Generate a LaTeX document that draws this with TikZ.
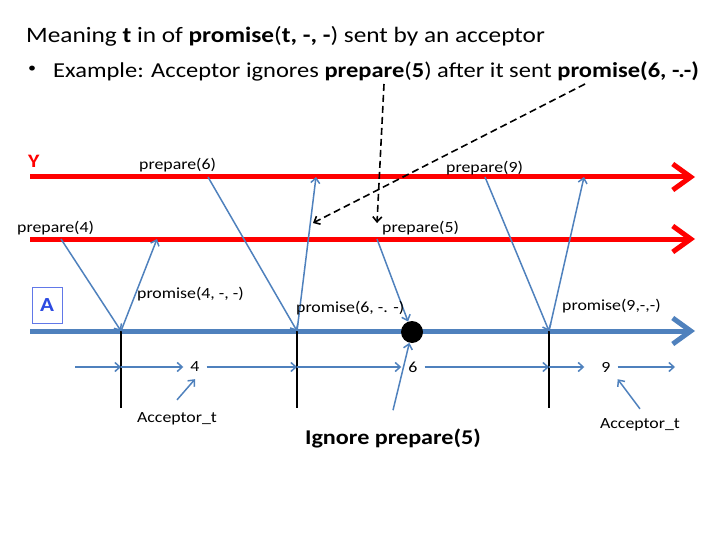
\documentclass[tikz,border=0pt]{standalone}
\usepackage{fontspec}
\setmainfont{Carlito}[FakeStretch=1.15]
\usetikzlibrary{arrows.meta,positioning}
\definecolor{slideblue}{RGB}{79,129,189}
\definecolor{letterblue}{RGB}{45,75,225}

\begin{document}
\begin{tikzpicture}[x=1pt, y=-1pt, >={Straight Barb[length=5pt,width=9pt]},
  process/.style={line width=5pt, -{Straight Barb[length=18pt,width=26pt]}},
  msg/.style={draw=slideblue, line width=1.5pt, ->},
  note/.style={draw=black, line width=1.6pt, dash pattern=on 7pt off 4pt, ->},
  lbl/.style={inner sep=0pt, anchor=base west, font=\fontsize{15.5}{18}\selectfont},
  num/.style={inner sep=7pt, font=\fontsize{15.5}{18}\selectfont},
  tick/.style={draw=black, line width=1.6pt}]
  \useasboundingbox (0,0) rectangle (720,540);

  % heading
  \node[lbl, font=\fontsize{22}{26}\selectfont] (head) at (26,43)
    {Meaning \textbf{t} in of \textbf{promise}(\textbf{t, -, -}) sent by an acceptor};
  \node[lbl, font=\fontsize{14}{16}\selectfont] (bullet) at (28,73) {\textbullet};
  \node[lbl, font=\fontsize{21.3}{26}\selectfont] (example) at (53,78)
    {Example: Acceptor ignores \textbf{prepare}(\textbf{5}) after it sent \textbf{promise(6, -.-)}};

  % process lines
  \node[lbl, text=red, font=\fontsize{19}{22}\selectfont\bfseries] (Y) at (28,168) {Y};
  \node[draw=letterblue!75, line width=1pt, minimum width=30, minimum height=36, inner sep=0pt,
    text=letterblue, font=\fontsize{20}{24}\selectfont\bfseries] (A) at (47,305) {A};
  \coordinate (ys) at (30,177);  \coordinate (ye) at (695,177);
  \coordinate (zs) at (30,239);  \coordinate (ze) at (695,239);
  \coordinate (as) at (30,331);  \coordinate (ae) at (695,331);
  \draw[process, red] (ys) -- (ye);
  \draw[process, red] (zs) -- (ze);
  \draw[process, slideblue] (as) -- (ae);

  % promise points on A
  \coordinate (acc4) at (121,331);  \coordinate (acc4b) at (121,408);
  \coordinate (acc6) at (297,331);  \coordinate (acc6b) at (297,408);
  \coordinate (acc9) at (549,331);  \coordinate (acc9b) at (549,408);
  \draw[tick] (acc4) -- (acc4b);
  \draw[tick] (acc6) -- (acc6b);
  \draw[tick] (acc9) -- (acc9b);
  \node[circle, fill=black, minimum size=22, inner sep=0pt] (dot) at (412,332) {};

  % messages
  \coordinate (p4) at (61,239);   \coordinate (r4) at (157,239);
  \coordinate (p6) at (208,177);  \coordinate (r6) at (316,177);
  \coordinate (p5) at (377,239);
  \coordinate (p9) at (485,177);  \coordinate (r9) at (584,177);
  \draw[msg] (p4) -- (acc4);
  \draw[msg] (acc4) -- (r4);
  \draw[msg] (p6) -- (acc6);
  \draw[msg] (acc6) -- (r6);
  \draw[msg] (p5) -- (dot);
  \draw[msg] (p9) -- (acc9);
  \draw[msg] (acc9) -- (r9);
  \node[lbl] (prep4) at (17,233) {prepare(4)};
  \node[lbl] (prom4) at (137,298) {promise(4, -, -)};
  \node[lbl] (prep6) at (139,170) {prepare(6)};
  \node[lbl] (prom6) at (296,312) {promise(6, -. -)};
  \node[lbl] (prep5) at (382,233) {prepare(5)};
  \node[lbl] (prep9) at (446,173) {prepare(9)};
  \node[lbl] (prom9) at (562,310) {promise(9,-,-)};

  % pointers from the heading
  \coordinate (n5) at (384,84);   \coordinate (n5e) at (377,223);
  \coordinate (n6) at (585,84);   \coordinate (n6e) at (313,223);
  \draw[note] (n5) -- (n5e);
  \draw[note] (n6) -- (n6e);

  % acceptor_t timeline
  \node[num] (t4) at (195,367) {4};
  \node[num] (t6) at (413,367) {6};
  \node[num] (t9) at (606,367) {9};
  \coordinate (tl0) at (75,367);   \coordinate (tlend) at (675,367);
  \coordinate (tk4) at (121,367);  \coordinate (tk6) at (297,367);  \coordinate (tk9) at (549,367);
  \draw[msg] (tl0) -- (tk4);
  \draw[msg] (tk4) -- (t4);
  \draw[msg] (t4) -- (tk6);
  \draw[msg] (tk6) -- (t6);
  \draw[msg] (t6) -- (tk9);
  \draw[msg, shorten >=10pt] (tk9) -- (t9);
  \draw[msg] (t9) -- (tlend);

  \node[lbl, anchor=base] (at4) at (177,422) {Acceptor\_t};
  \node[lbl, anchor=base] (at9) at (640,428) {Acceptor\_t};
  \node[inner sep=0pt, anchor=base, font=\fontsize{21}{25}\selectfont\bfseries] (ignore) at (393,444) {Ignore prepare(5)};
  \draw[msg] ([yshift=12pt]at4.north) -- (t4.south);
  \draw[msg] ([yshift=9pt]at9.north) -- (t9.south east);
  \draw[msg] ([yshift=18pt]ignore.north) -- (dot);
\end{tikzpicture}
\end{document}
